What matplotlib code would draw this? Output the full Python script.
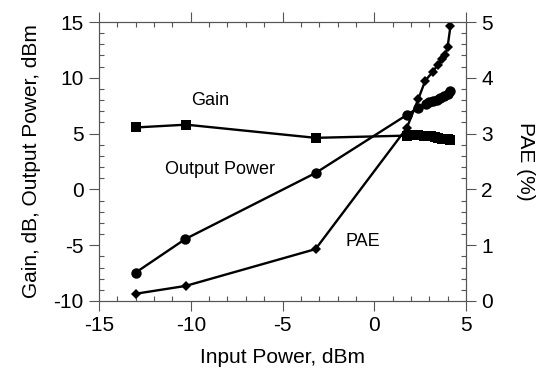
import matplotlib
matplotlib.use("Agg")
import matplotlib.pyplot as plt
from matplotlib.ticker import MultipleLocator

plt.rcParams['font.family'] = ['Liberation Sans', 'DejaVu Sans']
plt.rcParams['axes.unicode_minus'] = False

# input power sweep (dBm)
pin_gain = [-13.0, -10.25, -3.2, 1.8, 2.1, 2.4, 2.7, 2.9, 3.1, 3.3, 3.5, 3.7, 3.85, 4.0, 4.15]
gain = [5.55, 5.8, 4.62, 4.82, 4.83, 4.83, 4.82, 4.8, 4.75, 4.68, 4.62, 4.56, 4.52, 4.48, 4.47]

pin_pout = [-13.0, -10.3, -3.2, 1.8, 2.4, 2.8, 3.0, 3.2, 3.4, 3.6, 3.8, 4.0, 4.15]
pout = [-7.45, -4.45, 1.47, 6.7, 7.3, 7.65, 7.8, 7.9, 8.05, 8.2, 8.35, 8.55, 8.78]

pin_pae = [-13.0, -10.28, -3.2, 1.77, 2.4, 2.78, 3.2, 3.45, 3.7, 3.87, 4.0, 4.15]
pae = [0.13, 0.27, 0.93, 3.1, 3.62, 3.95, 4.11, 4.23, 4.33, 4.41, 4.56, 4.92]

fig = plt.figure(figsize=(5.37, 3.71), dpi=100)
ax = fig.add_axes([0.1844, 0.1887, 0.6834, 0.752])
ax2 = ax.twinx()

ax.plot(pin_gain, gain, '-s', color='black', lw=1.7, ms=7, mew=0)
ax.plot(pin_pout, pout, '-o', color='black', lw=1.7, ms=7.5, mew=0)
ax2.plot(pin_pae, pae, '-D', color='black', lw=1.7, ms=5, mew=0)

ax.set_xlim(-15, 5)
ax.set_ylim(-10, 15)
ax2.set_ylim(0, 5)

ax.xaxis.set_major_locator(MultipleLocator(5))
ax.xaxis.set_minor_locator(MultipleLocator(1))
ax.yaxis.set_major_locator(MultipleLocator(5))
ax.yaxis.set_minor_locator(MultipleLocator(1))
ax2.yaxis.set_major_locator(MultipleLocator(1))
ax2.yaxis.set_minor_locator(MultipleLocator(0.2))

for a in (ax, ax2):
    for s in a.spines.values():
        s.set_color('#555555')
        s.set_linewidth(0.8)
ax.tick_params(which='major', direction='out', length=7, width=0.8, color='#555555',
               labelsize=15, top=True, pad=4)
ax.tick_params(which='minor', direction='in', length=3.5, width=0.8, color='#555555', top=True)
ax2.tick_params(which='major', direction='out', length=7, width=0.8, color='#555555',
                labelsize=15, pad=4)
ax2.tick_params(which='minor', direction='in', length=3.5, width=0.8, color='#555555')

ax.set_xlabel('Input Power, dBm', fontsize=15, labelpad=9)
ax.set_ylabel('Gain, dB, Output Power, dBm', fontsize=15, labelpad=9)
ax2.set_ylabel('PAE (%)', fontsize=15, rotation=270, labelpad=30)

ax.text(-8.95, 8.0, 'Gain', fontsize=13, ha='center', va='center')
ax.text(-8.4, 1.75, 'Output Power', fontsize=13, ha='center', va='center')
ax.text(-0.6, -4.7, 'PAE', fontsize=13, ha='center', va='center')

fig.savefig('out.png', dpi=100)
